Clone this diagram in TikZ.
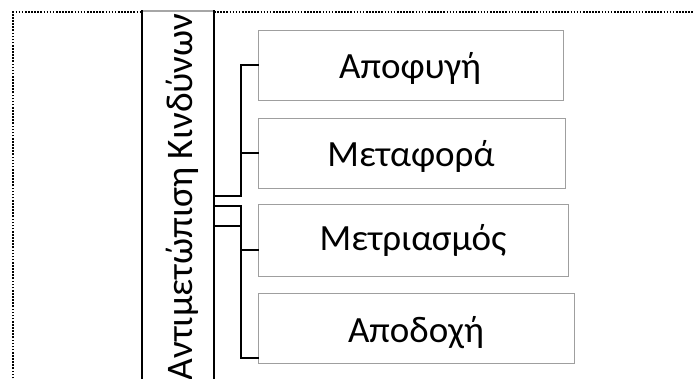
\documentclass[tikz,border=0pt]{standalone}
\usepackage{fontspec}
\setmainfont{Carlito}
\begin{document}
\begin{tikzpicture}[x=1pt,y=-1pt,
  childbox/.style={draw=gray!75, line width=1.3pt, minimum width=#1, minimum height=70pt, inner sep=0pt, anchor=north west},
  childtext/.style={font=\fontsize{37}{44}\selectfont, text=black},
  conn/.style={draw=black, line width=2pt},
  frame/.style={draw=black, line width=1.8pt, dash pattern=on 1.6pt off 1.5pt}]
\useasboundingbox (0,0) rectangle (693,379);
% dotted frame
\draw[frame] (13,400) -- (13,12) -- (700,12);
% parent box
\fill[white] (142,11) rectangle (214,390);
\draw[gray!70, line width=1.3pt] (142,11) -- (214,11);
\draw[black, line width=2pt] (142,10.5) -- (142,390);
\draw[black, line width=2pt] (214,10.5) -- (214,390);
\coordinate (P1) at (215,196);
\coordinate (P2) at (215,196);
\coordinate (P3) at (215,206);
\coordinate (P4) at (215,226);
\node[rotate=90, anchor=base, font=\fontsize{37.5}{44}\selectfont] (parent) at (192,197) {Αντιμετώπιση Κινδύνων};
% children
\node[childbox=305pt] (c1) at (258,30) {};
\node[childbox=307pt] (c2) at (258,118) {};
\node[childbox=310pt, minimum height=72pt] (c3) at (258,204) {};
\node[childbox=316pt] (c4) at (258,293) {};
\node[childtext, anchor=base] (t1) at (410,79) {Αποφυγή};
\node[childtext, anchor=base] (t2) at (411,167) {Μεταφορά};
\node[childtext, anchor=base] (t3) at (413,251) {Μετριασμός};
\node[childtext, anchor=base] (t4) at (416,342) {Αποδοχή};
% connectors
\coordinate (s1) at (259,65);
\coordinate (s2) at (259,153);
\coordinate (s3) at (259,250);
\coordinate (s4) at (259,358);
\draw[conn] (P1) -| (241,65) -- (s1);
\draw[conn] (P2) -| (241,153) -- (s2);
\draw[conn] (P3) -| (241,250) -- (s3);
\draw[conn] (P4) -| (241,358) -- (s4);
\end{tikzpicture}
\end{document}
